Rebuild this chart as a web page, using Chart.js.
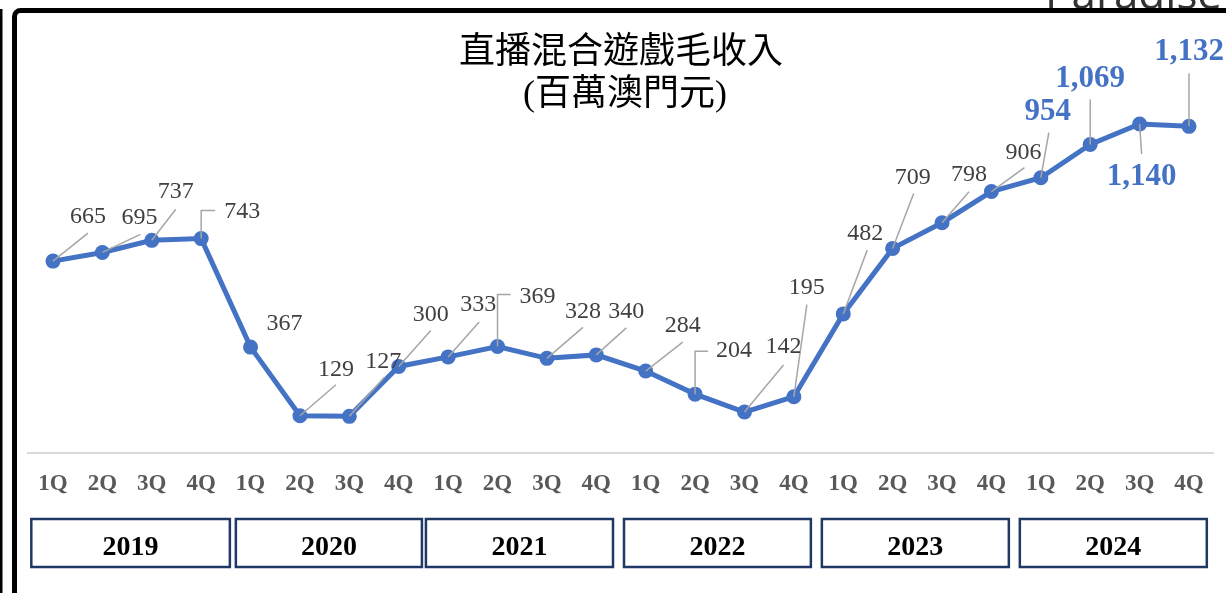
<!DOCTYPE html>
<html>
<head>
<meta charset="utf-8">
<script src="https://cdn.jsdelivr.net/npm/chart.js@4/dist/chart.umd.min.js"></script>
<style>
  body { margin: 0; background: #fff; }
  #wrap { width: 1226px; height: 593px; }
</style>
</head>
<body>
<div id="wrap"><canvas id="chart" width="1226" height="593"></canvas></div>
<script>
const years = ["2019", "2020", "2021", "2022", "2023", "2024"];
const quarters = ["1Q", "2Q", "3Q", "4Q"];
const revenue = [
  665, 695, 737, 743,
  367, 129, 127, 300,
  333, 369, 328, 340,
  284, 204, 142, 195,
  482, 709, 798, 906,
  954, 1069, 1140, 1132,
];
const titleText = "直播混合遊戲毛收入";
const subtitleText = "(百萬澳門元)";
const highlightFrom = 20; // 2024 labels in bold blue

// label position relative to its point, and where its leader line ends
const labelOffsets = [
  [35, -44], [37, -35], [24, -49], [41, -27],
  [34, -23], [36, -46], [34, -55], [32, -52],
  [30, -52], [40, -50], [36, -47], [30, -43],
  [37, -45], [39, -43], [39, -65], [13, -109],
  [22, -80], [20, -71], [27, -48], [32, -39],
  [7, -66], [0, -66], [2, 53], [0, -74],
];
const leaders = [
  [35, -28], [38, -18], [24, -31], ["elbow", -28, 14],
  null, [36, -31], [35, -39], [32, -36],
  [31, -35], ["elbow", -52, 13], [36, -31], [30, -27],
  [37, -29], ["elbow", -43, 13], [39, -47], [13, -92],
  [24, -64], [21, -55], [27, -31], [33, -24],
  [8, -45], [0, -45], [2, 30], [0, -53],
];
// year box edges, inset from the four-quarter band (left, right)
const boxInsets = [[3, 4], [10, -1.5], [2.5, -8], [3, -7.7], [3.3, -7.3], [3.7, -6.9]];

const labels = years.flatMap(() => quarters);
const BLUE = "#4472c4";
const SERIF = '"Liberation Serif", "Times New Roman", serif';
const CJK = '"Liberation Serif", "Noto Sans CJK TC", sans-serif';

const decorations = {
  id: "decorations",
  beforeDraw(chart) {
    const ctx = chart.ctx;
    ctx.save();
    ctx.fillStyle = "#fff";
    ctx.fillRect(0, 0, chart.width, chart.height);
    ctx.restore();
  },
  afterDatasetsDraw(chart) {
    const ctx = chart.ctx;
    const pts = chart.getDatasetMeta(0).data;
    ctx.save();
    // leader lines
    ctx.strokeStyle = "#a6a6a6";
    ctx.lineWidth = 1.5;
    pts.forEach((p, i) => {
      const l = leaders[i];
      if (!l) return;
      ctx.beginPath();
      ctx.moveTo(p.x, p.y);
      if (l[0] === "elbow") {
        ctx.lineTo(p.x, p.y + l[1]);
        ctx.lineTo(p.x + l[2], p.y + l[1]);
      } else {
        ctx.lineTo(p.x + l[0], p.y + l[1]);
      }
      ctx.stroke();
    });
    // value labels
    ctx.textAlign = "center";
    ctx.textBaseline = "middle";
    pts.forEach((p, i) => {
      const big = i >= highlightFrom;
      ctx.font = big ? "bold 31px " + SERIF : "24px " + SERIF;
      ctx.fillStyle = big ? BLUE : "#404040";
      const [dx, dy] = labelOffsets[i];
      ctx.fillText(revenue[i].toLocaleString("en-US"), p.x + dx, p.y + dy);
    });
    ctx.restore();
  },
  afterDraw(chart) {
    const ctx = chart.ctx;
    const x = chart.scales.x;
    const band = (x.getPixelForValue(1) - x.getPixelForValue(0));
    ctx.save();

    // title
    ctx.fillStyle = "#000";
    ctx.textAlign = "center";
    ctx.textBaseline = "middle";
    ctx.font = "36px " + CJK;
    ctx.fillText(titleText, 621, 54);
    ctx.fillText(subtitleText, 625, 96);

    // year boxes
    years.forEach((y, i) => {
      const left = x.getPixelForValue(i * 4) - band / 2 + boxInsets[i][0];
      const right = x.getPixelForValue(i * 4 + 3) + band / 2 + boxInsets[i][1];
      ctx.strokeStyle = "#1f3864";
      ctx.lineWidth = 2.5;
      ctx.strokeRect(left, 519, right - left, 48);
      ctx.fillStyle = "#000";
      ctx.font = "bold 28px " + SERIF;
      ctx.fillText(y, (left + right) / 2, 548);
    });

    // logo peeking at the top
    ctx.fillStyle = "#333";
    ctx.textAlign = "left";
    ctx.textBaseline = "alphabetic";
    ctx.font = '44px "Open Sans", sans-serif';
    ctx.fillText("Paradise", 1045, 9);

    // outer frame
    ctx.strokeStyle = "#000";
    ctx.lineWidth = 5;
    ctx.beginPath();
    ctx.moveTo(14.5, 600);
    ctx.lineTo(14.5, 17);
    ctx.arcTo(14.5, 10.5, 21, 10.5, 6);
    ctx.lineTo(1230, 10.5);
    ctx.stroke();
    ctx.fillStyle = "#000";
    ctx.fillRect(0, 9, 2.5, 590);
    ctx.restore();
  },
};

new Chart(document.getElementById("chart"), {
  type: "line",
  data: {
    labels: labels,
    datasets: [
      {
        data: revenue,
        borderColor: BLUE,
        backgroundColor: BLUE,
        borderWidth: 5,
        pointRadius: 7.5,
        pointBorderWidth: 0,
        pointBackgroundColor: BLUE,
        tension: 0,
        clip: false,
      },
    ],
  },
  options: {
    responsive: false,
    animation: false,
    devicePixelRatio: 1,
    layout: {
      padding: { left: 28.3, right: 12.3, top: 49, bottom: 0 },
    },
    plugins: {
      legend: { display: false },
      tooltip: { enabled: false },
    },
    scales: {
      x: {
        offset: true,
        grid: { display: false, drawTicks: false },
        border: { display: true, color: "#d9d9d9", width: 2 },
        ticks: {
          autoSkip: false,
          maxRotation: 0,
          padding: 17,
          color: "#595959",
          font: { family: SERIF, size: 23, weight: "bold" },
        },
        afterFit: (scale) => {
          scale.height = 140;
        },
      },
      y: {
        display: false,
        min: 0,
        max: 1400,
      },
    },
  },
  plugins: [decorations],
});
</script>
</body>
</html>
